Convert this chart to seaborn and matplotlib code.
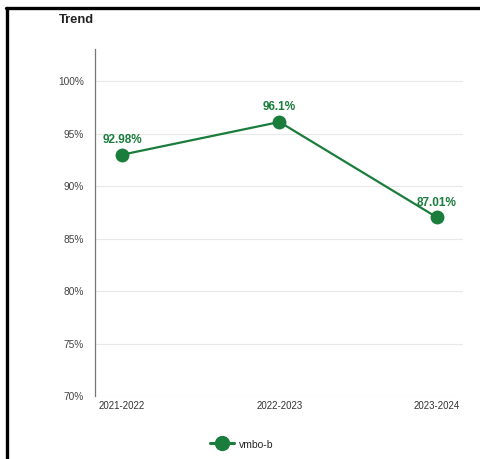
import matplotlib
matplotlib.use("Agg")
import matplotlib.pyplot as plt
import seaborn as sns
import pandas as pd
from matplotlib.lines import Line2D

years = ["2021-2022", "2022-2023", "2023-2024"]
values = [92.98, 96.1, 87.01]
labels = ["92.98%", "96.1%", "87.01%"]
series_name = "vmbo-b"
yticks = [70, 75, 80, 85, 90, 95, 100]

GREEN = "#1a7d3c"

sns.set_theme(style="white")
plt.rcParams['font.family'] = ['Liberation Sans', 'DejaVu Sans']

W, H = 481, 460
fig = plt.figure(figsize=(W / 100, H / 100), dpi=100)
ax = fig.add_axes([95 / W, 1 - 397 / H, (463 - 95) / W, (397 - 50) / H])

df = pd.DataFrame({"year": years, "value": values, "series": series_name})
df["x"] = range(len(years))
sns.lineplot(data=df, x="x", y="value", ax=ax, color=GREEN, linewidth=1.6,
             marker="o", markersize=10, markeredgewidth=0, legend=False)

for xi, v, lab in zip(df["x"], values, labels):
    ax.annotate(lab, (xi, v), xytext=(0, 7), textcoords="offset points",
                ha="center", va="bottom", color=GREEN, fontsize=8.5,
                fontweight="bold")

ax.set_xlim(-0.171, 2.165)
ax.set_ylim(70, 103.05)
ax.set_yticks(yticks)
ax.set_yticklabels([f"{t}%" for t in yticks])
ax.set_xticks(range(len(years)))
ax.set_xticklabels(years)
ax.tick_params(axis="y", labelsize=7.3, colors="#444444", length=0, pad=8)
ax.tick_params(axis="x", labelsize=7, colors="#333333", length=0, pad=3)
for lab in ax.get_yticklabels():
    lab.set_verticalalignment("center")
ax.set_xlabel("")
ax.set_ylabel("")
ax.grid(axis="y", color="#e8e8e8", linewidth=0.8)
ax.set_axisbelow(True)
for s in ["top", "right", "bottom"]:
    ax.spines[s].set_visible(False)
ax.spines["left"].set_color("#777777")
ax.spines["left"].set_linewidth(0.9)

fig.text(59 / W, 1 - 20 / H, "Trend", fontsize=9.3, fontweight="bold",
         color="#222222", ha="left", va="center")

handle = Line2D([], [], color=GREEN, linewidth=2.2, marker="o", markersize=10)
fig.legend([handle], [series_name], loc="center", bbox_to_anchor=(242 / W, 1 - 445 / H),
           frameon=False, fontsize=7.5, handlelength=2.3, handletextpad=0.5)

# outer frame (left and top edges)
fig.add_artist(Line2D([7 / W, 7 / W], [0, 1 - 9 / H], transform=fig.transFigure,
                      color="black", linewidth=2.4))
fig.add_artist(Line2D([6 / W, 1], [1 - 9 / H, 1 - 9 / H], transform=fig.transFigure,
                      color="black", linewidth=2.4))

fig.savefig("out.png", dpi=100)
